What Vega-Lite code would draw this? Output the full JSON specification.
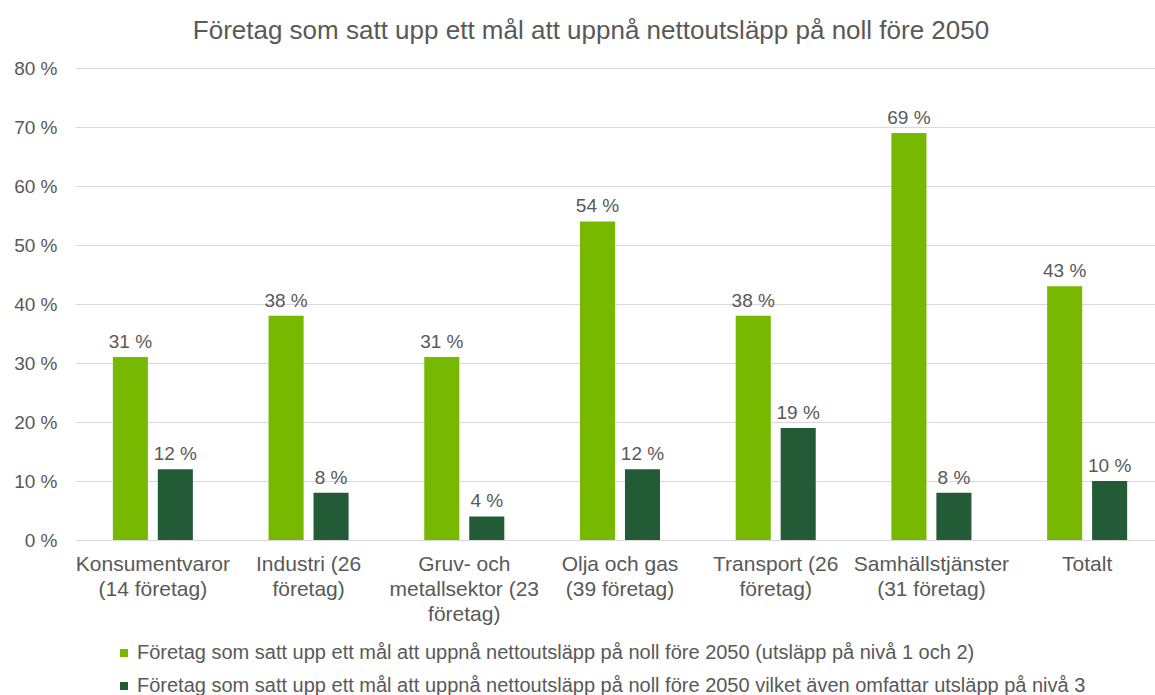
{
  "$schema": "https://vega.github.io/schema/vega-lite/v6.json",
  "width": 1090,
  "height": 472,
  "autosize": {"type": "none"},
  "padding": {"left": 75, "top": 68, "right": 0, "bottom": 155},
  "background": "white",
  "config": {
    "font": "Liberation Sans",
    "view": {"stroke": null}
  },
  "title": {
    "text": "Företag som satt upp ett mål att uppnå nettoutsläpp på noll före 2050",
    "anchor": "middle",
    "dx": -29,
    "offset": 15,
    "fontSize": 26,
    "fontWeight": "normal",
    "color": "#595959"
  },
  "data": {
    "values": [
      {"sektor": "Konsumentvaror|(14 företag)", "serie": "Företag som satt upp ett mål att uppnå nettoutsläpp på noll före 2050 (utsläpp på nivå 1 och 2)", "s": 1, "varde": 31, "etikett": "31 %"},
      {"sektor": "Konsumentvaror|(14 företag)", "serie": "Företag som satt upp ett mål att uppnå nettoutsläpp på noll före 2050 vilket även omfattar utsläpp på nivå 3", "s": 2, "varde": 12, "etikett": "12 %"},
      {"sektor": "Industri (26|företag)", "serie": "Företag som satt upp ett mål att uppnå nettoutsläpp på noll före 2050 (utsläpp på nivå 1 och 2)", "s": 1, "varde": 38, "etikett": "38 %"},
      {"sektor": "Industri (26|företag)", "serie": "Företag som satt upp ett mål att uppnå nettoutsläpp på noll före 2050 vilket även omfattar utsläpp på nivå 3", "s": 2, "varde": 8, "etikett": "8 %"},
      {"sektor": "Gruv- och|metallsektor (23|företag)", "serie": "Företag som satt upp ett mål att uppnå nettoutsläpp på noll före 2050 (utsläpp på nivå 1 och 2)", "s": 1, "varde": 31, "etikett": "31 %"},
      {"sektor": "Gruv- och|metallsektor (23|företag)", "serie": "Företag som satt upp ett mål att uppnå nettoutsläpp på noll före 2050 vilket även omfattar utsläpp på nivå 3", "s": 2, "varde": 4, "etikett": "4 %"},
      {"sektor": "Olja och gas|(39 företag)", "serie": "Företag som satt upp ett mål att uppnå nettoutsläpp på noll före 2050 (utsläpp på nivå 1 och 2)", "s": 1, "varde": 54, "etikett": "54 %"},
      {"sektor": "Olja och gas|(39 företag)", "serie": "Företag som satt upp ett mål att uppnå nettoutsläpp på noll före 2050 vilket även omfattar utsläpp på nivå 3", "s": 2, "varde": 12, "etikett": "12 %"},
      {"sektor": "Transport (26|företag)", "serie": "Företag som satt upp ett mål att uppnå nettoutsläpp på noll före 2050 (utsläpp på nivå 1 och 2)", "s": 1, "varde": 38, "etikett": "38 %"},
      {"sektor": "Transport (26|företag)", "serie": "Företag som satt upp ett mål att uppnå nettoutsläpp på noll före 2050 vilket även omfattar utsläpp på nivå 3", "s": 2, "varde": 19, "etikett": "19 %"},
      {"sektor": "Samhällstjänster|(31 företag)", "serie": "Företag som satt upp ett mål att uppnå nettoutsläpp på noll före 2050 (utsläpp på nivå 1 och 2)", "s": 1, "varde": 69, "etikett": "69 %"},
      {"sektor": "Samhällstjänster|(31 företag)", "serie": "Företag som satt upp ett mål att uppnå nettoutsläpp på noll före 2050 vilket även omfattar utsläpp på nivå 3", "s": 2, "varde": 8, "etikett": "8 %"},
      {"sektor": "Totalt", "serie": "Företag som satt upp ett mål att uppnå nettoutsläpp på noll före 2050 (utsläpp på nivå 1 och 2)", "s": 1, "varde": 43, "etikett": "43 %"},
      {"sektor": "Totalt", "serie": "Företag som satt upp ett mål att uppnå nettoutsläpp på noll före 2050 vilket även omfattar utsläpp på nivå 3", "s": 2, "varde": 10, "etikett": "10 %"}
    ]
  },
  "encoding": {
    "x": {
      "field": "sektor",
      "type": "nominal",
      "sort": null,
      "scale": {"paddingInner": 0.486, "paddingOuter": 0.243},
      "axis": {
        "title": null,
        "labelAngle": 0,
        "labelExpr": "split(datum.label, '|')",
        "labelFontSize": 21,
        "labelColor": "#595959",
        "labelLineHeight": 25,
        "labelPadding": 13,
        "labelLimit": 300,
        "ticks": false,
        "domainColor": "#d9d9d9",
        "domainWidth": 1
      }
    },
    "xOffset": {
      "field": "s",
      "type": "nominal",
      "scale": {"paddingInner": 0.22, "paddingOuter": 0}
    },
    "y": {
      "field": "varde",
      "type": "quantitative",
      "scale": {"domain": [0, 80], "nice": false},
      "axis": {
        "title": null,
        "values": [0, 10, 20, 30, 40, 50, 60, 70, 80],
        "labelExpr": "datum.value + ' %'",
        "labelFontSize": 19,
        "labelColor": "#595959",
        "labelPadding": 18,
        "ticks": false,
        "domain": false,
        "gridColor": "#d9d9d9",
        "gridWidth": 1
      }
    }
  },
  "layer": [
    {
      "mark": {"type": "bar"},
      "encoding": {
        "color": {
          "field": "serie",
          "type": "nominal",
          "scale": {"range": ["#76b900", "#245b37"]},
          "legend": {
            "title": null,
            "orient": "none",
            "legendX": 39,
            "legendY": 575,
            "direction": "vertical",
            "symbolType": "square",
            "symbolSize": 64,
            "symbolStrokeWidth": 0,
            "labelFontSize": 20,
            "labelColor": "#595959",
            "labelLimit": 1100,
            "labelOffset": 3,
            "rowPadding": 13
          }
        }
      }
    },
    {
      "mark": {"type": "text", "baseline": "bottom", "dy": -5, "fontSize": 19, "color": "#595959"},
      "encoding": {
        "text": {"field": "etikett", "type": "nominal"},
        "detail": {"field": "serie"}
      }
    }
  ]
}
